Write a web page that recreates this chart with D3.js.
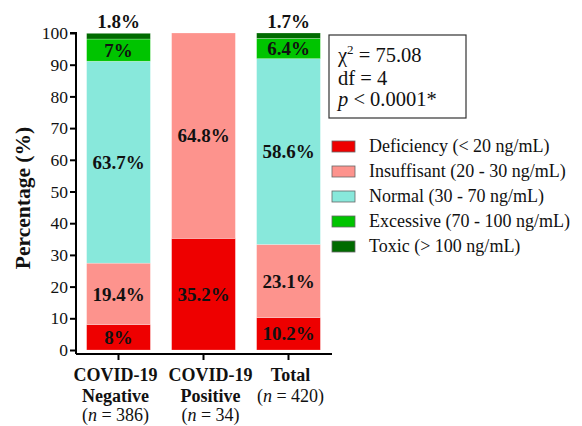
<!DOCTYPE html>
<html>
<head>
<meta charset="utf-8">
<script src="https://cdn.jsdelivr.net/npm/d3@7"></script>
<style>
  body { margin: 0; background: #fff; }
  text { font-family: "Liberation Serif", "Times New Roman", serif; }
</style>
</head>
<body>
<div id="chart"></div>
<script>
// groups on the x axis
const groups = ["neg", "pos", "total"];
const groupLines = [
    ["COVID-19", "Negative", "386"],
    ["COVID-19", "Positive", "34"],
    ["Total", null, "420"]
];

// vitamin D categories, bottom to top
const categories = ["Deficiency", "Insuffisant", "Normal", "Excessive", "Toxic"];
const legendLabels = [
    "Deficiency (< 20 ng/mL)",
    "Insuffisant (20 - 30 ng/mL)",
    "Normal (30 - 70 ng/mL)",
    "Excessive (70 - 100 ng/mL)",
    "Toxic (> 100 ng/mL)"
];
const colors = ["#ee0000", "#fd938d", "#88e8db", "#00c400", "#006b00"];

// percentages per group, same order as categories
const negValues = [8, 19.4, 63.7, 7, 1.8];
const posValues = [35.2, 64.8, 0, 0, 0];
const totalValues = [10.2, 23.1, 58.6, 6.4, 1.7];
const valueLabels = [
    ["8%", "19.4%", "63.7%", "7%", "1.8%"],
    ["35.2%", "64.8%", null, null, null],
    ["10.2%", "23.1%", "58.6%", "6.4%", "1.7%"]
];

const yTicks = [0, 10, 20, 30, 40, 50, 60, 70, 80, 90, 100];

const width = 582, height = 426;
const axisX = 76, axisY = 354;
// the group labels under the axis sit a little off the tick marks
const labelShift = [-3, 7, 2];

const svg = d3.select("#chart").append("svg")
    .attr("width", width)
    .attr("height", height);

const y = d3.scaleLinear().domain([0, 100]).range([350, 33]);
const x = d3.scaleBand().domain(groups).range([76, 331]).paddingInner(0.25).paddingOuter(0.125);

// build stacked data
const rows = [negValues, posValues, totalValues].map((vals, i) => {
    const r = { group: groups[i] };
    categories.forEach((c, j) => r[c] = vals[j]);
    return r;
});
const stack = d3.stack().keys(categories)(rows);

// bars
svg.append("g")
    .selectAll("g")
    .data(stack)
    .join("g")
    .attr("fill", (d, i) => colors[i])
    .selectAll("rect")
    .data(d => d)
    .join("rect")
    .attr("x", d => x(d.data.group))
    .attr("width", x.bandwidth())
    .attr("y", d => y(d[1]))
    .attr("height", d => y(d[0]) - y(d[1]))
    .attr("stroke", "#fff")
    .attr("stroke-opacity", 0.4)
    .attr("stroke-width", 0.6);

// labels in bars
const labelG = svg.append("g")
    .attr("font-weight", "bold")
    .attr("font-size", 19)
    .attr("text-anchor", "middle")
    .attr("fill", "#111");
stack.forEach((layer, ci) => {
    layer.forEach((d, gi) => {
        const txt = valueLabels[gi][ci];
        if (!txt) return;
        let cy;
        if (categories[ci] === "Toxic") cy = 21;
        else cy = (y(d[0]) + y(d[1])) / 2;
        labelG.append("text")
            .attr("x", x(d.data.group) + x.bandwidth() / 2)
            .attr("y", cy)
            .attr("dy", "0.35em")
            .text(txt);
    });
});

// y axis
const yAxis = svg.append("g")
    .attr("transform", `translate(${axisX},0)`)
    .call(d3.axisLeft(y).tickValues(yTicks).tickSize(6).tickPadding(2))
    .call(g => g.select(".domain").attr("stroke-width", 2).attr("d", `M-6,${y(100)}H0V${axisY}`));
yAxis.selectAll(".tick line").attr("stroke-width", 2);
yAxis.selectAll(".tick text")
    .style("font-family", "'Liberation Serif', serif")
    .style("font-size", "17.5px")
    .attr("fill", "#111");

// x axis
const xAxis = svg.append("g")
    .attr("transform", `translate(0,${axisY})`)
    .call(d3.axisBottom(x).tickSize(6).tickFormat(""))
    .call(g => g.select(".domain").attr("stroke-width", 2).attr("d", `M${axisX},0H332`));
xAxis.selectAll(".tick line").attr("stroke-width", 2);

// x labels
const xl = svg.append("g").attr("text-anchor", "middle").attr("font-size", 18).attr("fill", "#111");
groups.forEach((g, i) => {
    const cx = x(g) + x.bandwidth() / 2 + labelShift[i];
    const [l1, l2, n] = groupLines[i];
    xl.append("text").attr("x", cx).attr("y", 381).attr("font-weight", "bold").text(l1);
    let ny = 421;
    if (l2) xl.append("text").attr("x", cx).attr("y", 402).attr("font-weight", "bold").text(l2);
    else ny = 402;
    const t = xl.append("text").attr("x", cx).attr("y", ny);
    t.append("tspan").text("(");
    t.append("tspan").attr("font-style", "italic").text("n");
    t.append("tspan").text(" = " + n + ")");
});

// y title
svg.append("text")
    .attr("transform", "translate(30,198) rotate(-90)")
    .attr("text-anchor", "middle")
    .attr("font-weight", "bold")
    .attr("font-size", 21.5)
    .attr("fill", "#111")
    .text("Percentage (%)");

// stat box
svg.append("rect")
    .attr("x", 329).attr("y", 35).attr("width", 137).attr("height", 83)
    .attr("fill", "none").attr("stroke", "#333").attr("stroke-width", 1.2);
const st = svg.append("g").attr("font-size", 20.5).attr("fill", "#111");
const t1 = st.append("text").attr("x", 338).attr("y", 62);
t1.append("tspan").text("χ");
t1.append("tspan").attr("font-size", 13).attr("dy", -8).text("2");
t1.append("tspan").attr("dy", 8).text(" = 75.08");
st.append("text").attr("x", 338).attr("y", 85).text("df = 4");
const t3 = st.append("text").attr("x", 338).attr("y", 106);
t3.append("tspan").attr("font-style", "italic").text("p");
t3.append("tspan").text(" < 0.0001*");

// legend
const leg = svg.append("g").attr("transform", "translate(332,146)");
const li = leg.selectAll("g")
    .data(legendLabels)
    .join("g")
    .attr("transform", (d, i) => `translate(0,${i * 25})`);
li.append("rect")
    .attr("x", 0).attr("y", -5).attr("width", 23).attr("height", 11)
    .attr("fill", (d, i) => colors[i])
    .attr("stroke", "#666").attr("stroke-width", 0.8);
li.append("text")
    .attr("x", 37)
    .attr("dy", "0.35em")
    .attr("font-size", 18)
    .attr("fill", "#111")
    .text(d => d);
</script>
</body>
</html>
